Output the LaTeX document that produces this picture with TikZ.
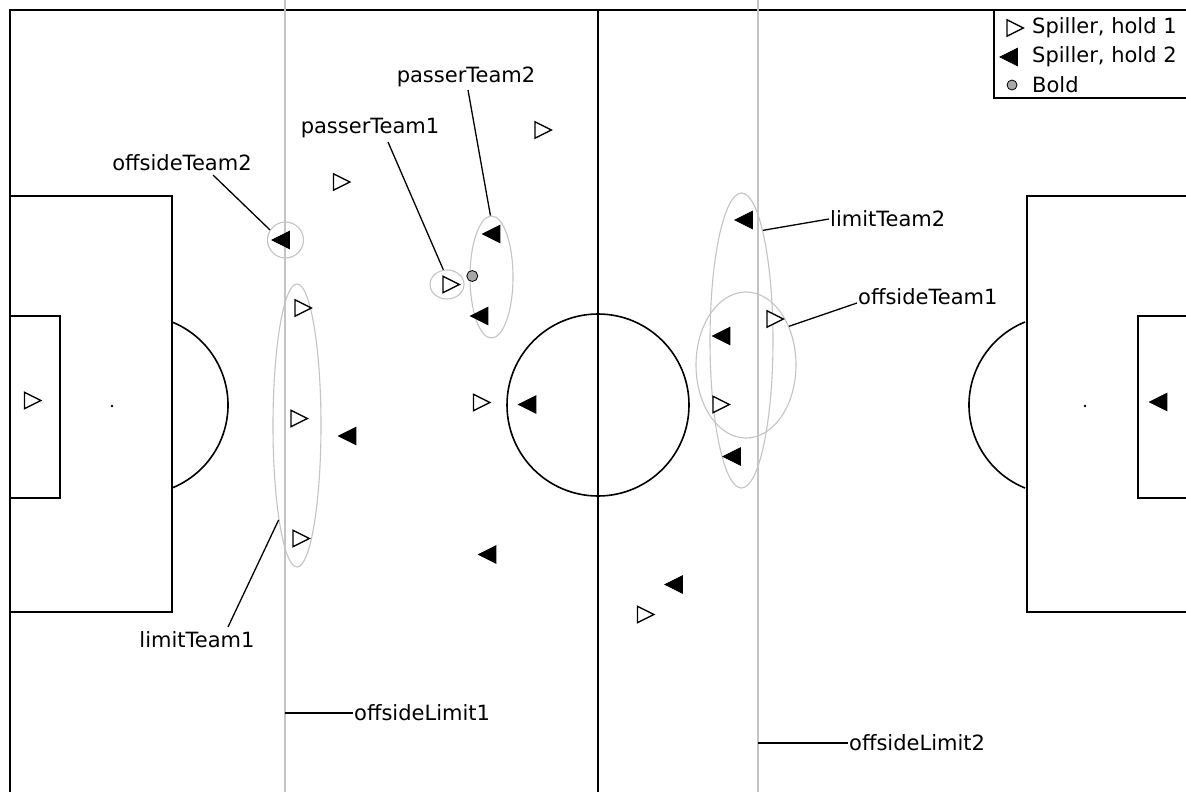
\documentclass[tikz,border=0pt]{standalone}
\usepackage{fontspec}
\setmainfont{DejaVu Sans}
\usetikzlibrary{shapes.geometric}
\definecolor{lightg}{HTML}{C4C4C4}
\definecolor{ballg}{HTML}{A8A8A8}
\begin{document}
\begin{tikzpicture}[x=1pt,y=-1pt,
  fieldline/.style={line width=1.6pt},
  offline/.style={draw=lightg,line width=1.6pt},
  grp/.style={ellipse,draw=lightg,line width=1.1pt,inner sep=0pt},
  lead/.style={line width=1.3pt},
  lbl/.style={font=\fontsize{21}{25}\selectfont,inner sep=1pt},
  pA/.style={isosceles triangle,isosceles triangle stretches,draw=black,fill=white,line width=1.3pt,minimum width=16.5pt,minimum height=16.5pt,inner sep=0pt},
  pB/.style={isosceles triangle,isosceles triangle stretches,shape border rotate=180,draw=black,fill=black,line width=0.8pt,minimum width=17.5pt,minimum height=17.5pt,inner sep=0pt},
  ballst/.style={circle,draw=black,fill=ballg,line width=0.8pt,minimum size=11pt,inner sep=0pt}]
\useasboundingbox (0,0) rectangle (1186,792);
\clip (0,0) rectangle (1186,792);
\fill[white] (0,0) rectangle (1186,792);
% field
\draw[fieldline] (10,10) rectangle (1190,800);
\draw[fieldline] (598,10) -- (598,800);
\draw[fieldline] (598,405) circle[radius=91];
\draw[fieldline] (10,196) rectangle (172,612);
\draw[fieldline] (10,316) rectangle (60,498);
\draw[fieldline] (1026.7,196) rectangle (1190,612);
\draw[fieldline] (1138,316) rectangle (1190,498);
\draw[fieldline] ([shift={(138.5,405)}]-68:89.5) arc[start angle=-68,end angle=68,radius=89.5];
\draw[fieldline] ([shift={(1058.5,405)}]112:89.5) arc[start angle=112,end angle=248,radius=89.5];
\fill (112,406) circle[radius=1.3];
\fill (1085,406) circle[radius=1.3];
% offside lines
\draw[offline] (285,0) -- (285,792);
\draw[offline] (758,0) -- (758,792);
% groups
\node[grp,minimum width=36pt,minimum height=36pt] (o2) at (285.5,240) {};
\node[grp,minimum width=34pt,minimum height=29pt] (p1) at (447,284.5) {};
\node[grp,minimum width=43pt,minimum height=122pt] (p2) at (491.5,277) {};
\node[grp,minimum width=48pt,minimum height=283pt] (lt1) at (297,425.5) {};
\node[grp,minimum width=63pt,minimum height=295pt] (lt2) at (741.5,340.5) {};
\node[grp,minimum width=100pt,minimum height=146pt] (o1) at (746,365) {};
% team 1
\node[pA] (w1) at (29.5,400.5) {};
\node[pA] (w2) at (338.5,182) {};
\node[pA] (w3) at (540,130) {};
\node[pA] (w4) at (448,284.5) {};
\node[pA] (w5) at (300,308) {};
\node[pA] (w6) at (296,418.5) {};
\node[pA] (w7) at (298,538.5) {};
\node[pA] (w8) at (478.5,402.5) {};
\node[pA] (w9) at (772,319) {};
\node[pA] (w10) at (718,404.5) {};
\node[pA] (w11) at (642.5,614.5) {};
% team 2
\node[pB] (b1) at (284,240) {};
\node[pB] (b2) at (494.5,234) {};
\node[pB] (b3) at (482.5,316) {};
\node[pB] (b4) at (350.5,436) {};
\node[pB] (b5) at (530.5,404.5) {};
\node[pB] (b6) at (490.5,554.5) {};
\node[pB] (b7) at (747,220) {};
\node[pB] (b8) at (724.5,336) {};
\node[pB] (b9) at (735,456.5) {};
\node[pB] (b10) at (677,584.5) {};
\node[pB] (b11) at (1161.5,402) {};
% ball
\node[ballst] (ball) at (472.3,276) {};
% labels
\node[lbl] (lo2) at (182,163) {offsideTeam2};
\node[lbl] (lp1) at (370,128) {passerTeam1};
\node[lbl] (lp2) at (466,77) {passerTeam2};
\node[lbl,anchor=west] (llt2) at (829,219) {limitTeam2};
\node[lbl,anchor=west] (lo1) at (857,297) {offsideTeam1};
\node[lbl] (llt1) at (197,640) {limitTeam1};
\node[lbl,anchor=west] (lol1) at (353,713) {offsideLimit1};
\node[lbl,anchor=west] (lol2) at (848,743) {offsideLimit2};
\coordinate (co2) at (213,175);
\coordinate (cp1) at (388,142);
\coordinate (cp2) at (468,90);
\coordinate (co1) at (857,303);
\coordinate (clt1) at (228,627);
\coordinate (col1) at (285,713);
\coordinate (col2) at (758,743);
\draw[lead] (co2) -- (o2.147);
\draw[lead] (cp1) -- (p1.104);
\draw[lead] (cp2) -- (p2.91);
\draw[lead] (llt2.west) -- (lt2.79);
\draw[lead] (co1) -- (o1.42);
\draw[lead] (clt1) -- (lt1.259);
\draw[lead] (col1) -- (lol1.west);
\draw[lead] (col2) -- (lol2.west);
% legend
\draw[line width=1.4pt,fill=white] (994,10) rectangle (1192,98);
\node[pA] (lgA) at (1012,28) {};
\node[lbl,anchor=west] (lgAt) at (1031,28) {Spiller, hold 1};
\node[pB] (lgB) at (1012,57) {};
\node[lbl,anchor=west] (lgBt) at (1031,57) {Spiller, hold 2};
\node[ballst,minimum size=10pt] (lgC) at (1012,85) {};
\node[lbl,anchor=west] (lgCt) at (1031,85) {Bold};
\end{tikzpicture}
\end{document}
